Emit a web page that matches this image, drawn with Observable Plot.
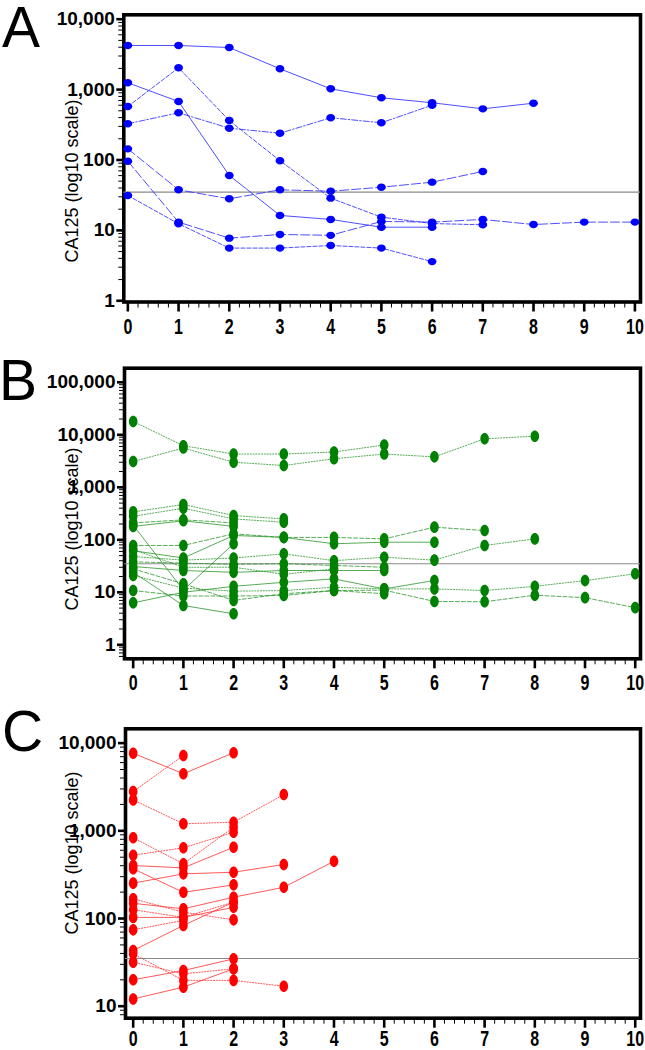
<!DOCTYPE html>
<html><head><meta charset="utf-8">
<script src="https://cdn.jsdelivr.net/npm/d3@7"></script>
<script src="https://cdn.jsdelivr.net/npm/@observablehq/plot@0.6"></script>
<style>
body{margin:0;background:#fff;}
#wrap{position:relative;width:645px;height:1050px;overflow:hidden;font-family:"Liberation Sans",Arial,sans-serif;color:#000;}
.panel{position:absolute;left:0;}
.letter{position:absolute;font-size:57px;line-height:0.8;}
.ylab{position:absolute;font-size:18px;white-space:nowrap;transform:translate(-50%,-50%) rotate(-90deg);}
</style></head><body><div id="wrap"></div>
<script>
// ---------- DATA ----------
const months = [0,1,2,3,4,5,6,7,8,9,10];
const refLevel = 35; // CA125 cut-off
const panelLetters = ["A","B","C"];
const yLabel = "CA125 (log10 scale)";

// Panel A: each series = CA125 values at month 0,1,2,...
const seriesA = [
  [4230, 4230, 3960, 1975, 1026, 765, 650, 533, 641],
  [575, 2040, 364, 97.5, 28.7, 15.4, 12.5, 12],
  [327, 468, 283, 240, 398, 338, 600],
  [1250, 677, 60.3, 16.3, 14.3, 11.1, 11.1],
  [144, 37.7, 28.1, 37.7, 36, 41, 48.4, 68.7],
  [96, 13.1, 7.75, 8.75, 8.5, 13.4, 13.1, 14.3, 12.1, 13.1, 13.1],
  [31.3, 12.4, 5.6, 5.6, 6.1, 5.6, 3.6]
];
const stylesA = ["solid","dash","dashdot","solid","longdash","longdash","dash"];

// Panel B
const seriesB = [
  [17900, 6200, 4300, 4300, 4700, 6400],
  [3100, 5600, 3000, 2600, 3500, 4300, 3800, 8400, 9400],
  [340, 470, 290, 250],
  [280, 400, 250, 216],
  [210, 240, 210],
  [180, 230, 180],
  [190, 11, 84],
  [78, 78, 130, 111, 111, 104, 174, 150],
  [62, 45, 121, 111, 84, 90, 90],
  [48, 41, 45, 54, 40, 46.6, 41, 78, 104],
  [38, 36, 34, 35, 32.4, 30],
  [31, 26, 24, 26, 26, 26],
  [21, 12, 10.5, 10.8, 12.5, 11.6, 11.6, 10.8, 13, 16.7, 22.5],
  [10.8, 8.5, 8.5, 8.7, 10.8, 11, 6.7, 6.6, 8.8, 7.9, 5.1],
  [6.3, 10, 13, 15.5, 18, 11.6, 16.8],
  [24, 5.6, 3.9],
  [28, 14.5, 7, 9.4, 10.8, 9.4],
  [65, 30, 30, 22, 28]
];
const stylesB = ["dot","dot","dot","dot","dash","solid","solid","dash","solid","dot","dash","solid","dot","dash","solid","solid","dash","dot"];

// Panel C
const seriesC = [
  [7670, 4470, 7760],
  [2800, 7230],
  [2250, 1202, 1253, 2590],
  [832, 421, 1100],
  [527, 640, 964],
  [402, 378, 650],
  [369, 199, 242],
  [253, 323, 337, 413],
  [149, 129, 175, 227, 450],
  [168, 118, 96.6],
  [126, 103, 154],
  [103, 103, 134],
  [74.3, 95],
  [43.2, 83.4, 154],
  [39.6, 19.7, 19.7, 16.9],
  [31.8, 23.4, 26.7],
  [20, 25.5, 34.7],
  [12.1, 16.5, 26.7]
];
const stylesC = ["solid","dot","dot","dot","dot","solid","solid","solid","solid","dot","dot","solid","dot","solid","dot","dot","solid","solid"];

// ---------- DRAW ----------
const dashMap = {solid: null, dash: "4,2", dot: "1.2,1.6", longdash: "9,3", dashdot: "6,2,1.5,2"};

function ellipse(rx, ry){
  const k = 0.5523;
  return {draw(c){
    c.moveTo(rx,0);
    c.bezierCurveTo(rx,ry*k,rx*k,ry,0,ry);
    c.bezierCurveTo(-rx*k,ry,-rx,ry*k,-rx,0);
    c.bezierCurveTo(-rx,-ry*k,-rx*k,-ry,0,-ry);
    c.bezierCurveTo(rx*k,-ry,rx,-ry*k,rx,0);
    c.closePath();
  }};
}
function logMajor(lo, hi){ const out=[]; for(let e=-1;e<=6;e++){const v=10**e; if(v>=lo&&v<=hi) out.push(v);} return out; }
function logMinor(lo, hi){ const out=[]; for(let e=-1;e<=6;e++){ for(let m=2;m<=9;m++){ const v=m*10**e; if(v>=lo&&v<=hi) out.push(v);} } return out; }
const xMinor = d3.range(0, 50).map(i => i/5).filter(v => v % 1 !== 0);

function toRows(series, styles){
  const rows = [];
  series.forEach((vals, i) => vals.forEach((v, m) => rows.push({id: i, month: months[m], value: v, style: styles[i]})));
  return rows;
}

function drawPanel(cfg){
  const rows = toRows(cfg.series, cfg.styles);
  const styleNames = [...new Set(cfg.styles)];
  const lineMarks = styleNames.map(s => Plot.line(rows.filter(d => d.style === s), {
    x: "month", y: "value", z: "id", stroke: cfg.lineColor, strokeWidth: cfg.lineWidth,
    strokeOpacity: cfg.lineOpacity, strokeDasharray: dashMap[s] || undefined
  }));
  const fontY = {fontSize: 19, fontWeight: "bold", fontFamily: "'Liberation Sans', Arial, sans-serif"};
  const fontX = {fontSize: 20, fontWeight: "bold", fontFamily: "'Liberation Sans', Arial, sans-serif"};
  return Plot.plot({
    width: 645, height: cfg.height,
    marginTop: cfg.marginTop, marginBottom: cfg.marginBottom, marginLeft: cfg.marginLeft, marginRight: 5,
    style: {background: "transparent", overflow: "visible", color: "black"},
    x: {domain: cfg.xDomain},
    y: {type: "log", domain: cfg.yDomain},
    marks: [
      Plot.frame({stroke: "black", strokeWidth: 3.6}),
      Plot.ruleY([refLevel], {stroke: "#8a8a8a", strokeWidth: 1.2}),
      ...lineMarks,
      Plot.dot(rows, {x: "month", y: "value", fill: cfg.dotColor, stroke: "none", symbol: ellipse(cfg.rx, cfg.ry), r: 4}),
      Plot.axisY({ticks: logMinor(cfg.yDomain[0], cfg.yDomain[1]), tickSize: 5, tickFormat: () => "", label: null, strokeWidth: 1}),
      Plot.axisY({ticks: logMajor(cfg.yDomain[0], cfg.yDomain[1]), tickSize: 7, tickPadding: 2, tickFormat: ",", label: null, strokeWidth: 2.6, ...fontY}),
      Plot.axisX({ticks: xMinor, tickSize: 6, tickFormat: () => "", label: null, strokeWidth: 1}),
      Plot.axisX({ticks: months, tickSize: 10, tickPadding: cfg.xPad, tickFormat: d3.format("d"), label: null, strokeWidth: 2.6, ...fontX})
    ]
  });
}

// condense x tick labels around their own centre (narrow bold look)
function condenseXLabels(svg){
  svg.querySelectorAll('[aria-label="x-axis tick label"] text').forEach(t => {
    if (!t.textContent) return;
    const b = t.getBBox();
    const cx = b.x + b.width / 2, cy = b.y + b.height / 2;
    const tr = t.getAttribute("transform") || "";
    t.setAttribute("transform", `${tr} translate(${cx},${cy}) scale(0.8,1.06) translate(${-cx},${-cy})`);
  });
}

const wrap = document.getElementById("wrap");
const configs = [
  {series: seriesA, styles: stylesA, top: 0, height: 345, marginTop: 14.3, marginBottom: 43.5, marginLeft: 123.3,
   xDomain: [-0.08, 10.11], yDomain: [0.96, 11550], lineColor: "#2f2fff", lineWidth: 1, lineOpacity: 0.85,
   dotColor: "#0000ff", rx: 4.4, ry: 3.7, letterTop: 5, letterLeft: 2, labelY: 181, xPad: 7},
  {series: seriesB, styles: stylesB, top: 345, height: 355, marginTop: 22.7, marginBottom: 41.7, marginLeft: 124,
   xDomain: [-0.173, 10.105], yDomain: [0.541, 185700], lineColor: "#1f8f1f", lineWidth: 1, lineOpacity: 0.75,
   dotColor: "#008000", rx: 4.3, ry: 5.8, letterTop: 358, letterLeft: -1, labelY: 529, xPad: 7},
  {series: seriesC, styles: stylesC, top: 700, height: 350, marginTop: 28.3, marginBottom: 32.3, marginLeft: 125,
   xDomain: [-0.153, 10.105], yDomain: [7.3, 14560], lineColor: "#ff3030", lineWidth: 1, lineOpacity: 0.8,
   dotColor: "#ff0000", rx: 4.3, ry: 5.8, letterTop: 709, letterLeft: 2, labelY: 853, xPad: 3.5}
];
configs.forEach((cfg, i) => {
  const svg = drawPanel(cfg);
  const holder = document.createElement("div");
  holder.className = "panel";
  holder.style.top = cfg.top + "px";
  holder.appendChild(svg);
  wrap.appendChild(holder);
  condenseXLabels(svg);
  const letter = document.createElement("div");
  letter.className = "letter";
  letter.textContent = panelLetters[i];
  letter.style.top = cfg.letterTop + "px";
  letter.style.left = cfg.letterLeft + "px";
  wrap.appendChild(letter);
  const lab = document.createElement("div");
  lab.className = "ylab";
  lab.textContent = yLabel;
  lab.style.left = "72px";
  lab.style.top = cfg.labelY + "px";
  wrap.appendChild(lab);
});
</script></body></html>
